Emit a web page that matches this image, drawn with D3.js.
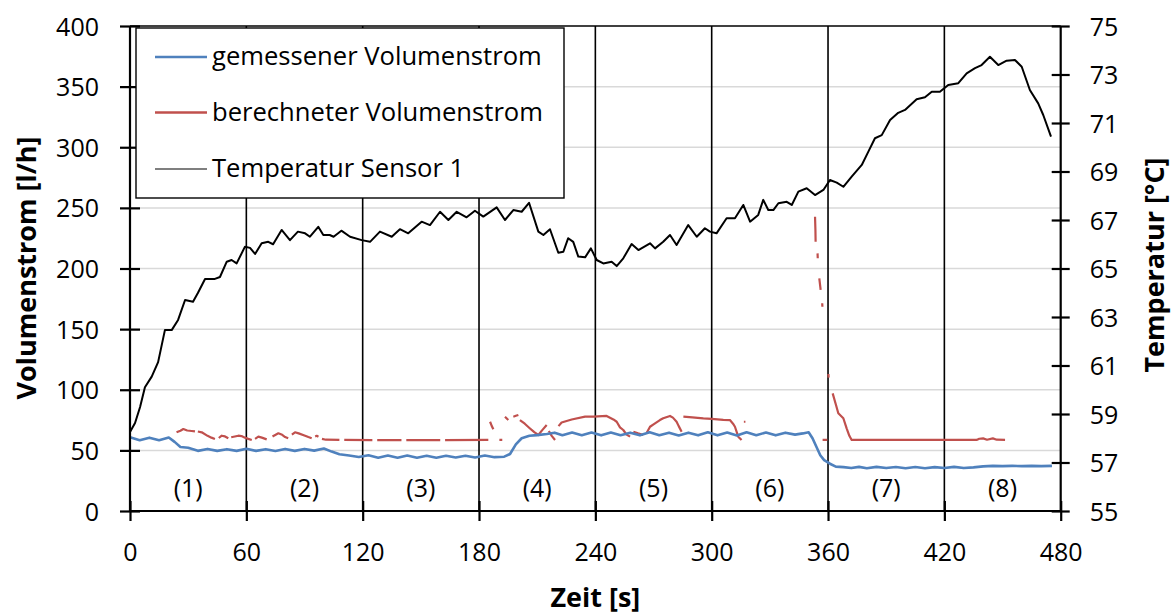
<!DOCTYPE html>
<html>
<head>
<meta charset="utf-8">
<script src="https://cdn.jsdelivr.net/npm/d3@7"></script>
<style>
  html, body { margin: 0; padding: 0; background: #fff; }
  svg text { font-family: "Open Sans", "DejaVu Sans", sans-serif; fill: #000; }
</style>
</head>
<body>
<svg id="chart" width="1173" height="614"></svg>
<script>
// Time axis ticks and phase labels
const timeTicks = [0, 60, 120, 180, 240, 300, 360, 420, 480];
const phaseBounds = [60, 120, 180, 240, 300, 360, 420];
const phaseLabels = ["(1)", "(2)", "(3)", "(4)", "(5)", "(6)", "(7)", "(8)"];
const phaseCenters = [30, 90, 150, 210, 270, 330, 390, 450];
const flowTicks = [0, 50, 100, 150, 200, 250, 300, 350, 400];
const tempTicks = [55, 57, 59, 61, 63, 65, 67, 69, 71, 73, 75];

const seriesNames = ["gemessener Volumenstrom", "berechneter Volumenstrom", "Temperatur Sensor 1"];

// measured volume flow [l/h] : [time s, value]
const measuredFlow = [
  [0,60.8],[5,58.3],[10,60.5],[15,58.4],[20,60.6],[23,57],[26,52.8],[30,52.2],[35,49.6],[40,51.2],
  [45,49.6],[50,51],[55,49.6],[60,51.4],[65,49.6],[70,51],[75,49.5],[80,51.2],[85,49.6],[90,51.2],
  [95,49.8],[100,51.6],[104,49],[108,46.8],[113,45.8],[118,44.6],[123,46],[128,44],[133,45.8],[138,44],
  [143,45.8],[148,44],[153,45.6],[158,44],[163,45.6],[168,44.2],[173,45.6],[178,44.2],[183,45.8],[188,44.4],
  [193,44.8],[196,47],[199,55],[202,60],[206,62],[210,62.6],[215,63.5],[219,64.6],[223,62.5],[228,64.8],
  [233,62.5],[238,64.8],[243,62.4],[248,64.8],[253,62.5],[258,64.6],[263,62.4],[268,65],[273,62.5],[278,64.6],
  [283,62.3],[288,64.6],[293,62.4],[298,65],[303,62.4],[308,64.8],[313,62.3],[318,65],[323,62.5],[328,64.8],
  [333,62.4],[338,64.6],[343,63],[347,64],[350,65],[352,60],[354,53],[356,46],[358,42],[361,39],
  [364,36.6],[368,36.2],[372,35.4],[376,36.4],[380,35.2],[385,36.4],[390,35.4],[395,36.3],[400,35.2],[405,36.3],
  [410,35.3],[415,36.2],[420,35.4],[425,36.4],[430,35.4],[435,36],[440,36.8],[445,37.2],[450,37],[455,37.2],
  [460,37],[465,37.2],[470,37],[475.5,37.2]
];

// computed volume flow [l/h] : [time s, value], null = no value
const computedFlow = [
  [24,64.9],[26,66.2],[27.5,67.6],[29.5,66.4],[31.8,66],[33.5,65.6],[34.2,null],
  [35,65.6],[37,64.9],[40,62],[42,60.5],[43.8,59.4],[44.8,null],
  [45.8,60.2],[47.3,62.1],[49,61.5],[50.7,60],[51.3,null],
  [52.2,60.8],[55.9,62.1],[57.5,61.8],[59.3,60.5],[61,59.5],[62.8,58.6],[63.6,null],
  [64.5,59.5],[66.2,61.3],[68,60.5],[70.5,59.1],[71.5,null],
  [73.5,61.5],[76.5,64.1],[78.5,62.8],[80,61],[81.6,60],[82.4,null],
  [83.5,63],[85.1,64.9],[87,64],[90.3,62.1],[92,61],[93.7,60],[94.5,null],
  [95.5,61.5],[96.3,62],[97.2,61.2],[98,null],
  [99,59.5],[101,58.8],[108,58.6],[109,null],
  [110.5,58.6],[125,58.5],[126,null],[127.5,58.5],[140,58.5],[141,null],
  [142.5,58.5],[160,58.5],[161,null],[162.5,58.5],[184.8,58.6],[185.2,null],
  [185.7,73.6],[186.6,70],[187.4,67.5],[188,null],
  [190.5,58.6],[192,58.6],[192.7,null],
  [193.4,77.8],[195.1,75.1],[196,null],
  [197.7,77.8],[199,78.5],[200.3,79.2],[200.7,null],
  [201.1,75],[203.6,72],[206,68.5],[208.5,65],[210.6,62.7],[212.5,66.5],[214.9,70.9],[215.5,null],
  [216,66],[217.5,62],[219.2,58.6],[219.8,null],
  [221,70],[222.6,73],[227.8,75.5],[234.7,77.8],[239,77.8],[245.8,78.4],[249.3,75.5],[251,73.6],
  [252.7,69],[254.4,66.8],[256.1,63],[257.9,61.3],[258.5,null],
  [259.6,65.4],[262,64],[264.7,62.7],[265.5,null],
  [266.5,64.5],[268.2,69.5],[270,71.5],[273.3,75],[275,76.5],[278.5,78.4],[280,77],[281.9,73.6],
  [283,70],[284.5,65.4],[285,null],
  [285.4,77.8],[290,77.2],[295.7,76.4],[300,76],[306,75.2],[309.4,75],[311,72],[312,69.5],
  [313.7,61.3],[315.4,58.6],[316,null],
  [316.6,73.6],[317.4,73.6],[318,null],
  [353.3,242.7],[353.5,232],[353.6,222.1],[353.9,null],
  [354.6,212.5],[354.7,208.4],[355,null],
  [355.5,191.9],[356.2,182.3],[356.5,null],
  [357,171.3],[357.1,168.5],[357.15,null],
  [357.2,58.6],[359.6,58.6],[359.9,null],
  [360.2,113],[360.3,110],[360.5,null],
  [362.4,97],[364,88],[365.3,80.6],[367.9,76.5],[369.6,68.2],[371,62],[372.2,58.6],[400,58.6],
  [436.6,58.6],[438,59.6],[440,59.9],[442,58.8],[445,59.9],[447,58.8],[451.3,58.6]
];

// temperature sensor 1 [°C] : [time s, value]
const tempSensor1 = [
  [0,58.26],[2.6,58.63],[5.2,59.29],[7.7,60.1],[11.2,60.54],[14.5,61.14],[18,62.46],[21.5,62.46],
  [24.8,62.88],[28.4,63.7],[32.5,63.63],[35,63.99],[38.7,64.57],[43.8,64.57],[46.4,64.65],[49.9,65.28],
  [52.4,65.35],[55,65.21],[59.3,65.9],[61.9,65.85],[64.5,65.6],[67.9,66.04],[71.3,66.1],[73.8,66.0],
  [78.2,66.59],[82.5,66.17],[86.6,66.52],[90.3,66.45],[92.8,66.31],[97.1,66.72],[99.7,66.38],[103,66.38],
  [105,66.31],[109,66.56],[113.5,66.31],[119.5,66.17],[123.8,66.1],[128.9,66.52],[135,66.31],[139.2,66.62],
  [143.5,66.45],[150.4,66.93],[154.7,66.79],[159.9,67.34],[164.2,67.0],[168.5,67.34],[173.6,67.11],[177.9,67.38],
  [182.2,67.14],[189.1,67.52],[193.4,67.0],[197.7,67.41],[202,67.34],[205.8,67.71],[210.6,66.52],[213.2,66.38],
  [216.6,66.62],[220.9,65.65],[223.5,65.69],[226,66.25],[228.6,66.1],[231.2,65.49],[234.7,65.46],[237.7,65.83],
  [240.7,65.35],[244.1,65.21],[248.4,65.28],[251,65.1],[254.4,65.42],[258.7,66.01],[262.2,65.76],[268.2,66.04],
  [270.8,65.83],[275,66.1],[278.5,66.38],[281.9,65.97],[287.9,66.79],[292.3,66.31],[296.5,66.66],[299.1,66.52],
  [302.5,66.45],[307.7,67.07],[312,67.07],[316.3,67.62],[319.8,66.93],[324,67.21],[326.6,67.83],[329.2,67.41],
  [331.8,67.41],[334.4,67.69],[338.7,67.75],[341.3,67.62],[344.7,68.17],[349,68.31],[353.3,68.03],[357.6,68.24],
  [361,68.65],[364.5,68.54],[367.9,68.37],[372.2,68.79],[377.4,69.27],[380.8,69.82],[384.2,70.37],[387.7,70.5],
  [392,71.12],[396.2,71.42],[399.7,71.54],[405.7,71.98],[410,72.06],[413.5,72.29],[417.7,72.29],[422,72.57],
  [427.2,72.64],[431.5,73.05],[435.8,73.26],[439.2,73.39],[443.5,73.73],[447.8,73.39],[452.1,73.57],[456.4,73.6],
  [459.9,73.32],[464.1,72.36],[468.4,71.81],[471,71.33],[475,70.44]
];

const colors = { measured: "#4F81BD", computed: "#C0504D", temp: "#000000" };

const svg = d3.select("#chart");
const plot = { left: 130, right: 1060.7, top: 26, bottom: 511 };

const x = d3.scaleLinear().domain([0, 480]).range([plot.left, plot.right]);
const yL = d3.scaleLinear().domain([0, 400]).range([plot.bottom, plot.top]);
const yR = d3.scaleLinear().domain([55, 75]).range([plot.bottom, plot.top]);

// horizontal gridlines
svg.append("g").selectAll("line")
  .data(flowTicks.filter(v => v > 0 && v < 400))
  .join("line")
  .attr("x1", plot.left).attr("x2", plot.right)
  .attr("y1", d => yL(d)).attr("y2", d => yL(d))
  .attr("stroke", "#D9D9D9").attr("stroke-width", 1.5);

// phase boundaries
svg.append("g").selectAll("line")
  .data(phaseBounds)
  .join("line")
  .attr("x1", d => x(d)).attr("x2", d => x(d))
  .attr("y1", plot.top).attr("y2", plot.bottom)
  .attr("stroke", "#000").attr("stroke-width", 1.6);

// top border
svg.append("line")
  .attr("x1", plot.left).attr("x2", plot.right)
  .attr("y1", plot.top).attr("y2", plot.top)
  .attr("stroke", "#000").attr("stroke-width", 1.6);

// phase labels
svg.append("g").selectAll("text")
  .data(phaseLabels)
  .join("text")
  .attr("x", (d, i) => x(phaseCenters[i]))
  .attr("y", 497)
  .attr("text-anchor", "middle")
  .attr("font-size", 25)
  .text(d => d);

// series lines
const line = (ys) => d3.line()
  .defined(d => d[1] !== null)
  .x(d => x(d[0]))
  .y(d => ys(d[1]));

svg.append("path").datum(tempSensor1)
  .attr("d", line(yR))
  .attr("fill", "none").attr("stroke", colors.temp)
  .attr("stroke-width", 2).attr("stroke-linejoin", "round");

svg.append("path").datum(computedFlow)
  .attr("d", line(yL))
  .attr("fill", "none").attr("stroke", colors.computed)
  .attr("stroke-width", 2.2).attr("stroke-linejoin", "round");

svg.append("path").datum(measuredFlow)
  .attr("d", line(yL))
  .attr("fill", "none").attr("stroke", colors.measured)
  .attr("stroke-width", 2.6).attr("stroke-linejoin", "round");

// axes
const leftAxis = svg.append("g")
  .attr("transform", `translate(${plot.left},0)`)
  .call(d3.axisLeft(yL).tickValues(flowTicks).tickSize(10).tickPadding(0));
leftAxis.selectAll(".tick line").attr("x1", -10).attr("x2", 10);
leftAxis.selectAll(".tick text").attr("x", -31).attr("dy", "0.36em");

const bottomAxis = svg.append("g")
  .attr("transform", `translate(0,${plot.bottom})`)
  .call(d3.axisBottom(x).tickValues(timeTicks).tickSize(10));
bottomAxis.selectAll(".tick line").attr("y1", -10).attr("y2", 10);
bottomAxis.selectAll(".tick text").attr("y", 50).attr("dy", 0);

const rightAxis = svg.append("g")
  .attr("transform", `translate(${plot.right},0)`)
  .call(d3.axisRight(yR).tickValues(tempTicks).tickSize(10));
rightAxis.selectAll(".tick line").attr("x1", -9).attr("x2", 9);
rightAxis.selectAll(".tick text").attr("x", 29).attr("dy", "0.36em");

[leftAxis, bottomAxis, rightAxis].forEach(g => {
  g.select(".domain").attr("stroke", "#000").attr("stroke-width", 2.2);
  g.selectAll(".tick line").attr("stroke", "#000").attr("stroke-width", 2.2);
  g.selectAll(".tick text")
    .attr("font-size", 25)
    .attr("font-family", "'Open Sans', 'DejaVu Sans', sans-serif")
    .attr("fill", "#000");
});
leftAxis.select(".domain").attr("d", `M0,${plot.bottom}V${plot.top}`);
rightAxis.select(".domain").attr("d", `M0,${plot.bottom}V${plot.top}`);
bottomAxis.select(".domain").attr("d", `M${plot.left},0H${plot.right}`);

// axis titles
svg.append("text")
  .attr("transform", `translate(36,268) rotate(-90)`)
  .attr("text-anchor", "middle")
  .attr("font-size", 27).attr("font-weight", "bold")
  .text("Volumenstrom [l/h]");

svg.append("text")
  .attr("transform", `translate(1164,265) rotate(-90)`)
  .attr("text-anchor", "middle")
  .attr("font-size", 27).attr("font-weight", "bold")
  .text("Temperatur [°C]");

svg.append("text")
  .attr("x", x(240)).attr("y", 607)
  .attr("text-anchor", "middle")
  .attr("font-size", 27).attr("font-weight", "bold")
  .text("Zeit [s]");

// legend
const legend = svg.append("g");
legend.append("rect")
  .attr("x", 136).attr("y", 28).attr("width", 428).attr("height", 170)
  .attr("fill", "#fff").attr("stroke", "#000").attr("stroke-width", 1.4);
const legendRows = [
  { name: seriesNames[0], color: colors.measured, width: 2.6, y: 57 },
  { name: seriesNames[1], color: colors.computed, width: 2.4, y: 112.5 },
  { name: seriesNames[2], color: colors.temp, width: 1.2, y: 169 }
];
legendRows.forEach(r => {
  legend.append("line")
    .attr("x1", 155).attr("x2", 207).attr("y1", r.y).attr("y2", r.y)
    .attr("stroke", r.color).attr("stroke-width", r.width);
  legend.append("text")
    .attr("x", 212).attr("y", r.y).attr("dy", "0.33em")
    .attr("font-size", 25.6)
    .text(r.name);
});
</script>
</body>
</html>
